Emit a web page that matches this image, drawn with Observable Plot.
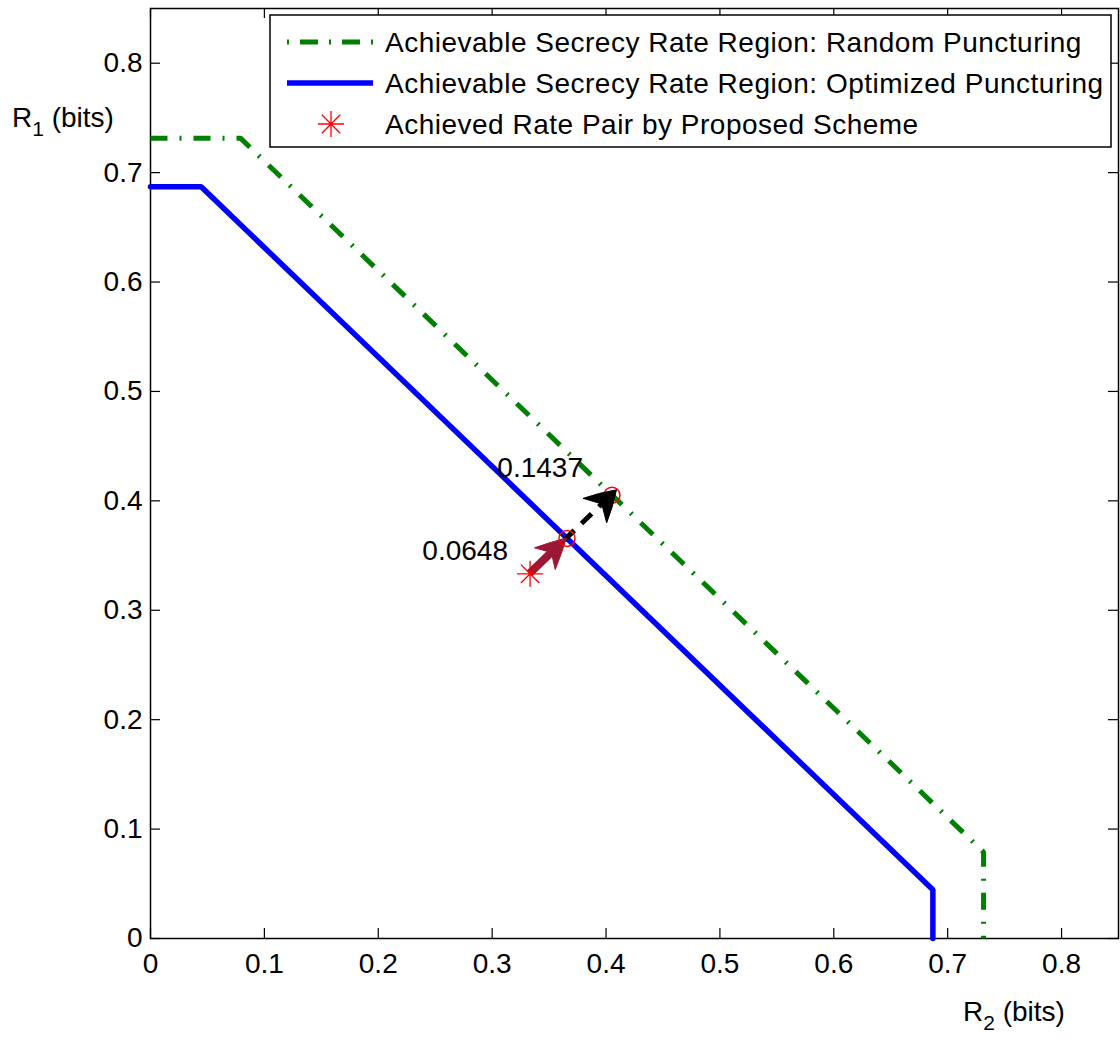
<!DOCTYPE html>
<html><head><meta charset="utf-8">
<script src="https://cdn.jsdelivr.net/npm/d3@7"></script>
<script src="https://cdn.jsdelivr.net/npm/@observablehq/plot@0.6"></script>
<style>body{margin:0;background:#fff} #chart svg{display:block}</style>
</head><body><div id="chart"></div>
<script>
// ---- data ----
const xTicks = [0, 0.1, 0.2, 0.3, 0.4, 0.5, 0.6, 0.7, 0.8];
const xTickLabels = ["0", "0.1", "0.2", "0.3", "0.4", "0.5", "0.6", "0.7", "0.8"];
const yTicks = [0, 0.1, 0.2, 0.3, 0.4, 0.5, 0.6, 0.7, 0.8];
const yTickLabels = ["0", "0.1", "0.2", "0.3", "0.4", "0.5", "0.6", "0.7", "0.8"];
const randomR2 = [0, 0.079, 0.7315, 0.7315];
const randomR1 = [0.7315, 0.7315, 0.079, 0];
const optR2 = [0, 0.0445, 0.687, 0.687];
const optR1 = [0.687, 0.687, 0.0445, 0];
const achievedR2 = [0.3333];
const achievedR1 = [0.3333];
const optPointR2 = [0.3657], optPointR1 = [0.3657];
const randPointR2 = [0.4052], randPointR1 = [0.4052];
const gainLabels = ["0.0648", "0.1437"];
const legendLabels = [
  "Achievable Secrecy Rate Region: Random Puncturing",
  "Achievable Secrecy Rate Region: Optimized Puncturing",
  "Achieved Rate Pair by Proposed Scheme"
];

const randomRegion = randomR2.map((r2, i) => ({r2, r1: randomR1[i]}));
const optRegion = optR2.map((r2, i) => ({r2, r1: optR1[i]}));
const achieved = achievedR2.map((r2, i) => ({r2, r1: achievedR1[i]}));
const optPoint = optPointR2.map((r2, i) => ({r2, r1: optPointR1[i], label: gainLabels[0]}));
const randPoint = randPointR2.map((r2, i) => ({r2, r1: randPointR1[i], label: gainLabels[1]}));

const GREEN = "rgb(0,128,0)", BLUE = "rgb(0,0,255)", MAROON = "rgb(155,24,52)";
const FONT = "'Liberation Sans', Arial, Helvetica, sans-serif";
const FS = 28;
const W = 1120, H = 1042, mL = 150, mR = 2, mT = 8, mB = 104;
const frameW = W - mL - mR, frameH = H - mT - mB;

const asterisk = {
  draw(ctx, size) {
    const r = Math.sqrt(size / Math.PI);
    for (const a of [0, 45, 90, 135]) {
      const c = Math.cos(a * Math.PI / 180) * r, s = Math.sin(a * Math.PI / 180) * r;
      ctx.moveTo(c, s); ctx.lineTo(-c, -s);
    }
  }
};

function arrowMark(from, to, o) {
  return (index, scales) => {
    const sx = scales.x(from.r2), sy = scales.y(from.r1);
    const px = scales.x(to.r2), py = scales.y(to.r1);
    const len = Math.hypot(px - sx, py - sy);
    const ux = (px - sx) / len, uy = (py - sy) / len, nx = -uy, ny = ux;
    const tx = px + ux * o.overshoot, ty = py + uy * o.overshoot;
    const L = o.headLength, HW = o.headWidth / 2;
    const bx = tx - ux * L, by = ty - uy * L;
    const mx = tx - ux * L * o.notch, my = ty - uy * L * o.notch;
    const c = o.bulge || 0;
    const g = d3.create("svg:g");
    g.append("line")
      .attr("x1", sx).attr("y1", sy).attr("x2", mx).attr("y2", my)
      .attr("stroke", o.color).attr("stroke-width", o.width)
      .attr("stroke-dasharray", o.dash || null).attr("stroke-linecap", "butt");
    const q1x = tx - ux * L * 0.5 + nx * HW * (0.5 + c), q1y = ty - uy * L * 0.5 + ny * HW * (0.5 + c);
    const q2x = tx - ux * L * 0.5 - nx * HW * (0.5 + c), q2y = ty - uy * L * 0.5 - ny * HW * (0.5 + c);
    g.append("path")
      .attr("d", `M${tx},${ty}Q${q1x},${q1y} ${bx + nx * HW},${by + ny * HW}L${mx},${my}L${bx - nx * HW},${by - ny * HW}Q${q2x},${q2y} ${tx},${ty}Z`)
      .attr("fill", o.color).attr("stroke", o.color).attr("stroke-width", 1).attr("stroke-linejoin", "round");
    return g.node();
  };
}

const svg = Plot.plot({
  width: W, height: H,
  marginLeft: mL, marginRight: mR, marginTop: mT, marginBottom: mB,
  style: {fontFamily: FONT, fontSize: FS + "px", color: "black", background: "white"},
  x: {domain: [0, 0.85]},
  y: {domain: [0, 0.85]},
  marks: [
    Plot.frame({stroke: "black", strokeWidth: 1.5}),
    Plot.ruleX(xTicks, {x: d => d, insetTop: frameH - 10, stroke: "black", strokeWidth: 1.2}),
    Plot.ruleX(xTicks, {x: d => d, insetBottom: frameH - 10, stroke: "black", strokeWidth: 1.2}),
    Plot.ruleY(yTicks, {y: d => d, insetRight: frameW - 10, stroke: "black", strokeWidth: 1.2}),
    Plot.ruleY(yTicks, {y: d => d, insetLeft: frameW - 10, stroke: "black", strokeWidth: 1.2}),
    Plot.axisX({ticks: xTicks, tickSize: 0, tickPadding: 15, label: null, fontSize: FS,
      tickFormat: d => xTickLabels[xTicks.indexOf(d)]}),
    Plot.axisY({ticks: yTicks, tickSize: 0, tickPadding: 8, label: null, fontSize: FS,
      tickFormat: d => yTickLabels[yTicks.indexOf(d)]}),
    Plot.line(randomRegion, {x: "r2", y: "r1", stroke: GREEN, strokeWidth: 5,
      strokeDasharray: "17,12,2,12", strokeLinejoin: "miter", strokeLinecap: "butt"}),
    Plot.line(optRegion, {x: "r2", y: "r1", stroke: BLUE, strokeWidth: 5.5, strokeLinejoin: "miter"}),
    Plot.dot(randPoint, {x: "r2", y: "r1", r: 8, stroke: "red", strokeWidth: 1.5, fill: "none"}),
    arrowMark(achieved[0], randPoint[0], {color: "black", width: 5, dash: "14,10",
      headLength: 30, headWidth: 34, notch: 0.68, overshoot: 7, bulge: 0.1}),
    arrowMark(achieved[0], optPoint[0], {color: MAROON, width: 8,
      headLength: 30, headWidth: 30, notch: 0.7, overshoot: 0, bulge: 0.05}),
    Plot.dot(optPoint, {x: "r2", y: "r1", r: 8, stroke: "red", strokeWidth: 1.5, fill: "none"}),
    Plot.dot(achieved, {x: "r2", y: "r1", r: 13, symbol: asterisk, stroke: "red", strokeWidth: 1.3, fill: "none"}),
    Plot.text(randPoint, {x: "r2", y: "r1", text: "label", textAnchor: "end", dx: -29, dy: -27, fontSize: FS, fill: "black"}),
    Plot.text(optPoint, {x: "r2", y: "r1", text: "label", textAnchor: "end", dx: -59, dy: 13, fontSize: FS, fill: "black"})
  ]
});

// legend
const s = d3.select(svg);
const lg = s.append("g").attr("font-family", FONT).attr("font-size", FS).attr("text-anchor", "start");
lg.append("rect").attr("x", 270).attr("y", 15).attr("width", 841).attr("height", 132)
  .attr("fill", "white").attr("stroke", "black").attr("stroke-width", 1.5);
const rowsY = [42, 83, 124];
lg.append("line").attr("x1", 287).attr("x2", 373).attr("y1", rowsY[0]).attr("y2", rowsY[0])
  .attr("stroke", GREEN).attr("stroke-width", 5).attr("stroke-dasharray", "2,11,18,11");
lg.append("line").attr("x1", 287).attr("x2", 373).attr("y1", rowsY[1]).attr("y2", rowsY[1])
  .attr("stroke", BLUE).attr("stroke-width", 5.5);
{
  const p = d3.path(); asterisk.draw(p, 13 * 13 * Math.PI);
  lg.append("path").attr("d", p.toString()).attr("transform", `translate(331,${rowsY[2]})`)
    .attr("stroke", "red").attr("stroke-width", 1.3).attr("fill", "none");
}
legendLabels.forEach((t, i) => {
  lg.append("text").attr("x", 385).attr("y", rowsY[i]).attr("dy", "0.35em")
    .attr("letter-spacing", "0.5px").attr("fill", "black").text(t);
});

// axis labels with subscripts
function subLabel(x, y, main, sub, rest) {
  const t = s.append("text").attr("x", x).attr("y", y).attr("font-family", FONT)
    .attr("font-size", FS).attr("text-anchor", "start").attr("fill", "black");
  t.append("tspan").text(main);
  t.append("tspan").attr("font-size", 21).attr("dy", 9).text(sub);
  t.append("tspan").attr("dy", -9).text(rest);
}
subLabel(12, 127, "R", "1", " (bits)");
subLabel(963, 1021, "R", "2", " (bits)");

document.getElementById("chart").appendChild(svg);
</script></body></html>
